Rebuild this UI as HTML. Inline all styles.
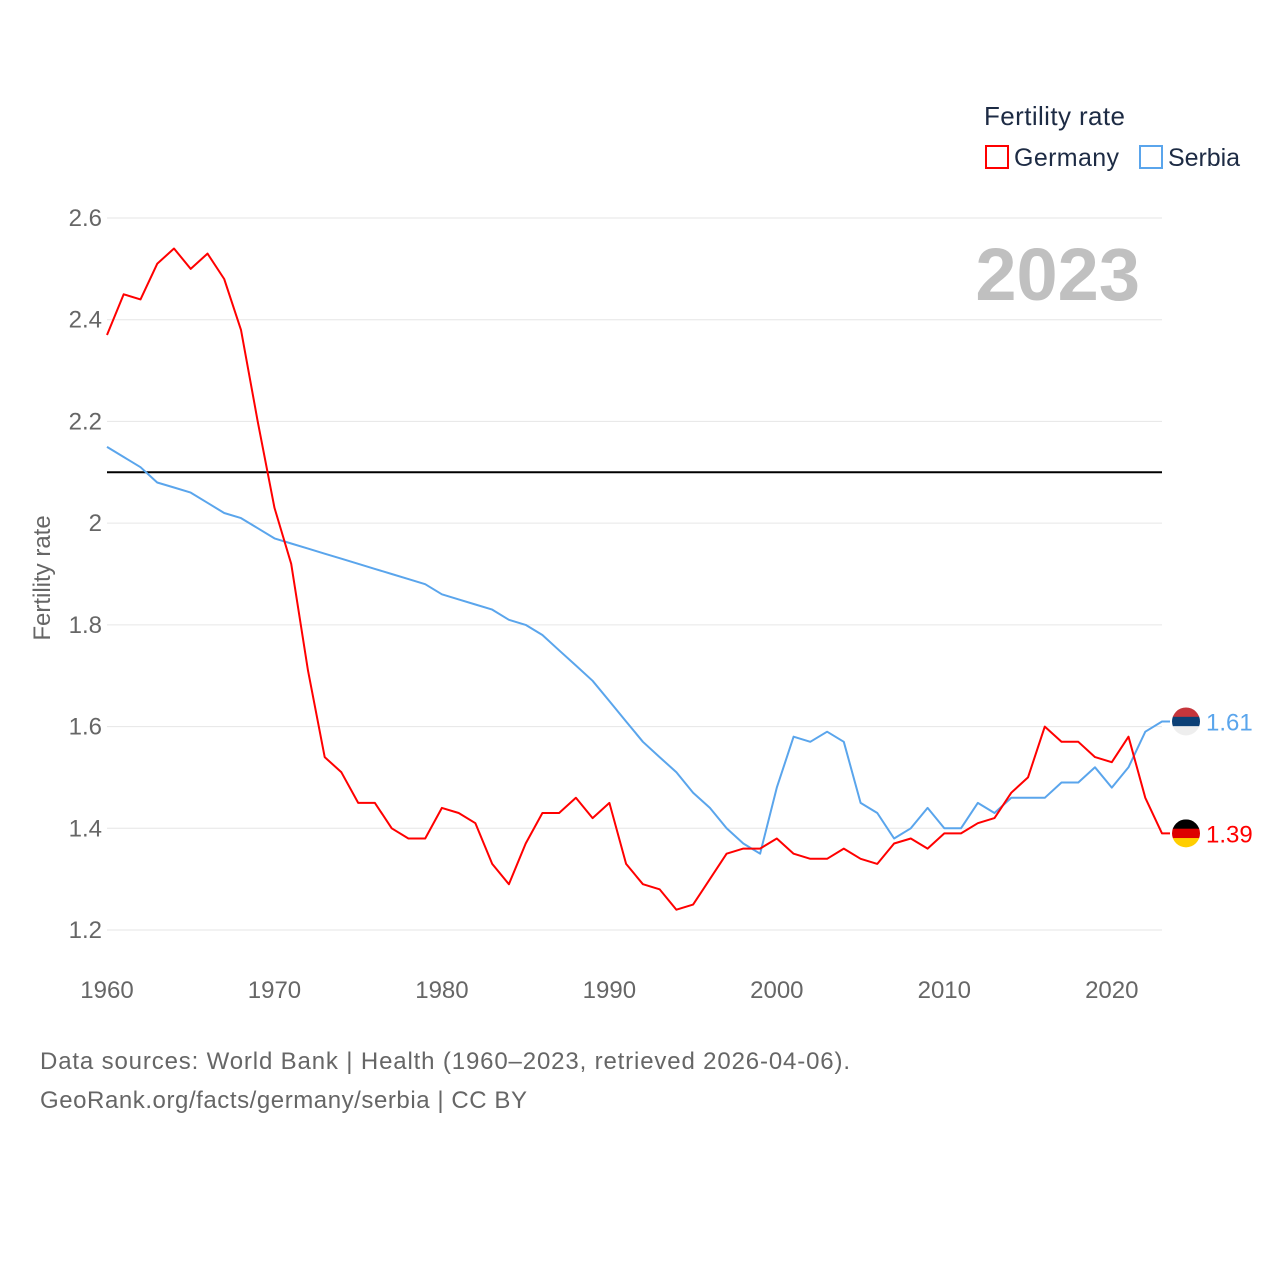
<!DOCTYPE html>
<html><head><meta charset="utf-8">
<style>
html,body{margin:0;padding:0;background:#fff;}
body{width:1280px;height:1280px;position:relative;font-family:"Liberation Sans",sans-serif;}
svg text{font-family:"Liberation Sans",sans-serif;}
</style></head>
<body>
<svg id="chart" width="1280" height="1280" xmlns="http://www.w3.org/2000/svg">
  <g id="grid"></g>
  <g id="yticks"></g>
  <g id="xticks"></g>
  <text x="1140" y="300" text-anchor="end" font-size="74" font-weight="bold" fill="#c0c0c0">2023</text>
  <text transform="translate(50,578) rotate(-90)" text-anchor="middle" font-size="24" fill="#666">Fertility rate</text>
  <g id="series"></g>
  <g>
    <text x="984" y="125" font-size="26" fill="#1d2b44" textLength="141">Fertility rate</text>
    <g>
      <rect x="986" y="146" width="22" height="22" fill="none" stroke="#ff0000" stroke-width="2"/>
      <text x="1014" y="166" font-size="25" fill="#1d2b44" textLength="105">Germany</text>
    </g>
    <g>
      <rect x="1140" y="146" width="22" height="22" fill="none" stroke="#5aa5ec" stroke-width="2"/>
      <text x="1168" y="166" font-size="25" fill="#1d2b44" textLength="72">Serbia</text>
    </g>
  </g>
  <text x="40" y="1069" font-size="24" fill="#666" textLength="810">Data sources: World Bank | Health (1960–2023, retrieved 2026-04-06).</text>
  <text x="40" y="1108" font-size="24" fill="#666" textLength="487">GeoRank.org/facts/germany/serbia | CC BY</text>
</svg>
<script>
const years = [];
for (let y = 1960; y <= 2023; y++) years.push(y);
const germany = [2.37,2.45,2.44,2.51,2.54,2.50,2.53,2.48,2.38,2.20,2.03,1.92,1.71,1.54,1.51,1.45,1.45,1.40,1.38,1.38,1.44,1.43,1.41,1.33,1.29,1.37,1.43,1.43,1.46,1.42,1.45,1.33,1.29,1.28,1.24,1.25,1.30,1.35,1.36,1.36,1.38,1.35,1.34,1.34,1.36,1.34,1.33,1.37,1.38,1.36,1.39,1.39,1.41,1.42,1.47,1.50,1.60,1.57,1.57,1.54,1.53,1.58,1.46,1.39];
const serbia = [2.15,2.13,2.11,2.08,2.07,2.06,2.04,2.02,2.01,1.99,1.97,1.96,1.95,1.94,1.93,1.92,1.91,1.90,1.89,1.88,1.86,1.85,1.84,1.83,1.81,1.80,1.78,1.75,1.72,1.69,1.65,1.61,1.57,1.54,1.51,1.47,1.44,1.40,1.37,1.35,1.48,1.58,1.57,1.59,1.57,1.45,1.43,1.38,1.40,1.44,1.40,1.40,1.45,1.43,1.46,1.46,1.46,1.49,1.49,1.52,1.48,1.52,1.59,1.61];
const yTicks = [1.2,1.4,1.6,1.8,2,2.2,2.4,2.6];
const xTicks = [1960,1970,1980,1990,2000,2010,2020];
const replacement = 2.1;

const NS = "http://www.w3.org/2000/svg";
const X = y => 107 + (y - 1960) * (1162 - 107) / 63;
const Y = v => 218 + (2.6 - v) * (930 - 218) / 1.4;
function mk(tag, attrs, parent) {
  const e = document.createElementNS(NS, tag);
  for (const k in attrs) e.setAttribute(k, attrs[k]);
  parent.appendChild(e); return e;
}
const grid = document.getElementById('grid');
const yt = document.getElementById('yticks');
const xt = document.getElementById('xticks');
const ser = document.getElementById('series');
yTicks.forEach(v => {
  const l = mk('line', {x1:107, x2:1162, y1:Y(v), y2:Y(v), stroke:'#e6e6e6', 'stroke-width':1}, grid);
  
  
  const t = mk('text', {x:102, y:Y(v)+8, 'text-anchor':'end', 'font-size':24, fill:'#666'}, yt);
  
  
  t.textContent = String(v);
});
xTicks.forEach(v => {
  const t = mk('text', {x:X(v), y:998, 'text-anchor':'middle', 'font-size':24, fill:'#666'}, xt);
  
  
  t.textContent = String(v);
});
const ref = mk('line', {x1:107, x2:1162, y1:Y(replacement), y2:Y(replacement), stroke:'#000', 'stroke-width':2}, ser);


function line(vals, color, name) {
  let d = vals.map((v,i) => (i?'L':'M') + X(years[i]).toFixed(1) + ',' + Y(v).toFixed(1)).join(' ');
  d += ' L' + (X(years[years.length-1]) + 8).toFixed(1) + ',' + Y(vals[vals.length-1]).toFixed(1);
  const p = mk('path', {d:d, fill:'none', stroke:color, 'stroke-width':2, 'stroke-linejoin':'round'}, ser);
  
  
}
line(serbia, '#5aa5ec', 'serbia-line');
line(germany, '#ff0000', 'germany-line');

function endLabel(vals, color, name, flag) {
  const v = vals[vals.length-1];
  const cy = Y(v);
  const g = mk('g', {}, ser);
  
  
  const cx = 1186;
  const cp = mk('clipPath', {id:'cp'+name}, g);
  mk('circle', {cx:cx, cy:cy, r:14}, cp);
  const fg = mk('g', {'clip-path':'url(#cp'+name+')'}, g);
  flag.forEach((c,i) => mk('rect', {x:cx-14, y:cy-14+i*28/3, width:28, height:28/3+0.5, fill:c}, fg));
  const t = mk('text', {x:1206, y:cy+9, 'font-size':24, fill:color}, g);
  t.textContent = v.toFixed(2);
}
endLabel(serbia, '#5aa5ec', 'serbia-end-label', ['#c6363c','#0c4076','#eeeeee']);
endLabel(germany, '#ff0000', 'germany-end-label', ['#000000','#dd0000','#ffce00']);
</script>
</body></html>
